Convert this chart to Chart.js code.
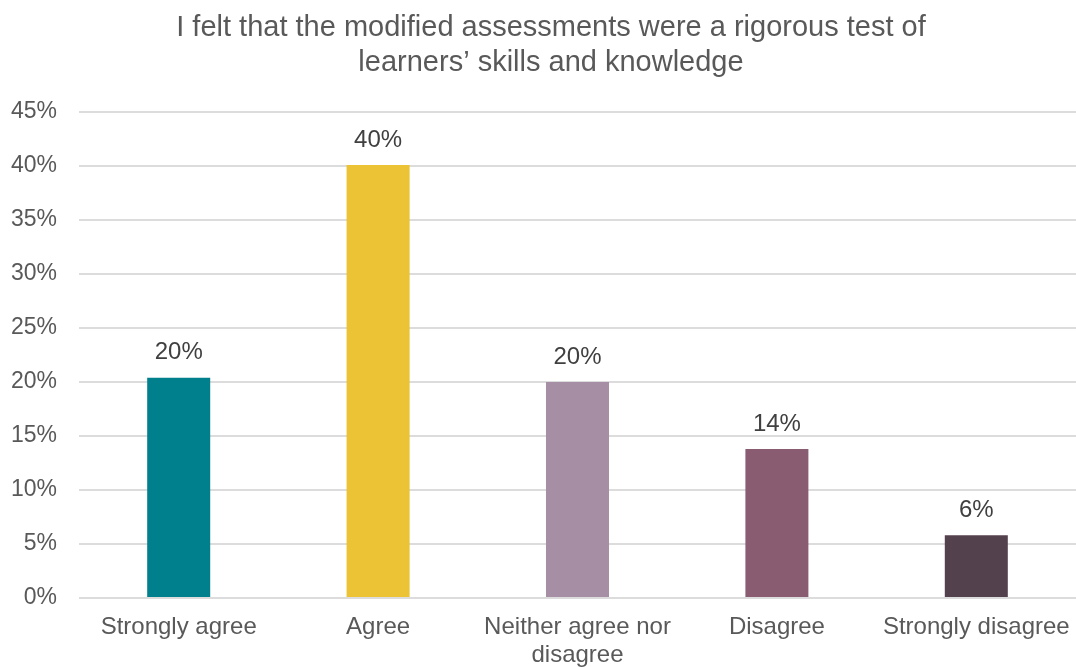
<!DOCTYPE html>
<html>
<head>
<meta charset="utf-8">
<title>Modified assessments survey</title>
<script src="https://cdn.jsdelivr.net/npm/chart.js@4.4.1/dist/chart.umd.min.js"></script>
<style>
  html, body { margin: 0; padding: 0; background: #ffffff; }
  #wrap { width: 1076px; height: 667px; position: relative; }
</style>
</head>
<body>
<div id="wrap"><canvas id="chart"></canvas></div>
<script>
// Survey responses (share of respondents, %)
const categories = ['Strongly agree', 'Agree', ['Neither agree nor', 'disagree'], 'Disagree', 'Strongly disagree'];
const responseShare = [20.4, 40.1, 20.0, 13.8, 5.8];
const barColors = ['#007F8C', '#EBC334', '#A68EA4', '#8A5C72', '#54414E'];
const yTicks = [0, 5, 10, 15, 20, 25, 30, 35, 40, 45];
const titleLines = ['I felt that the modified assessments were a rigorous test of', 'learners\u2019 skills and knowledge'];

const FONT = '"Liberation Sans", Arial, Helvetica, sans-serif';

// Two-line chart title, centred slightly left of the plot centre
const chartTitle = {
  id: 'chartTitle',
  afterDraw(chart) {
    const ctx = chart.ctx;
    ctx.save();
    ctx.font = '29px ' + FONT;
    ctx.fillStyle = '#595959';
    ctx.textAlign = 'center';
    ctx.textBaseline = 'middle';
    titleLines.forEach((line, i) => ctx.fillText(line, 551, 28 + i * 34.5));
    ctx.restore();
  }
};

// Draws the rounded percentage above each bar
const valueLabels = {
  id: 'valueLabels',
  afterDatasetsDraw(chart) {
    const ctx = chart.ctx;
    const meta = chart.getDatasetMeta(0);
    ctx.save();
    ctx.font = '24px ' + FONT;
    ctx.fillStyle = '#404040';
    ctx.textAlign = 'center';
    ctx.textBaseline = 'middle';
    meta.data.forEach((bar, i) => {
      const v = chart.data.datasets[0].data[i];
      ctx.fillText(Math.round(v) + '%', bar.x, bar.y - 25);
    });
    ctx.restore();
  }
};

new Chart(document.getElementById('chart'), {
  type: 'bar',
  data: {
    labels: categories,
    datasets: [{
      data: responseShare,
      backgroundColor: barColors,
      borderWidth: 0,
      categoryPercentage: 1,
      barPercentage: 0.316
    }]
  },
  options: {
    responsive: true,
    maintainAspectRatio: false,
    animation: false,
    devicePixelRatio: 1,
    layout: { padding: { top: 112, right: 0, bottom: 0, left: 0 } },
    plugins: {
      legend: { display: false },
      tooltip: { enabled: false },
      title: { display: false }
    },
    scales: {
      x: {
        grid: { display: false, drawTicks: false },
        border: { display: false },
        afterFit(axis) {
          axis.height = 69;
          axis.paddingLeft = 0;
          axis.paddingRight = 0;
        },
        ticks: {
          color: '#595959',
          font: { family: FONT, size: 24, lineHeight: 1.17 },
          padding: 15,
          maxRotation: 0,
          autoSkip: false
        }
      },
      y: {
        min: 0,
        max: 45,
        afterBuildTicks(axis) {
          axis.ticks = yTicks.map(v => ({ value: v }));
        },
        afterFit(axis) {
          axis.width = 79;
          axis.paddingTop = 0;
          axis.paddingBottom = 0;
        },
        grid: { color: '#DCDCDC', lineWidth: 2, drawTicks: false },
        border: { display: false },
        ticks: {
          color: '#595959',
          font: { family: FONT, size: 23 },
          padding: 22,
          callback: v => v + '%'
        }
      }
    }
  },
  plugins: [valueLabels, chartTitle]
});
</script>
</body>
</html>
